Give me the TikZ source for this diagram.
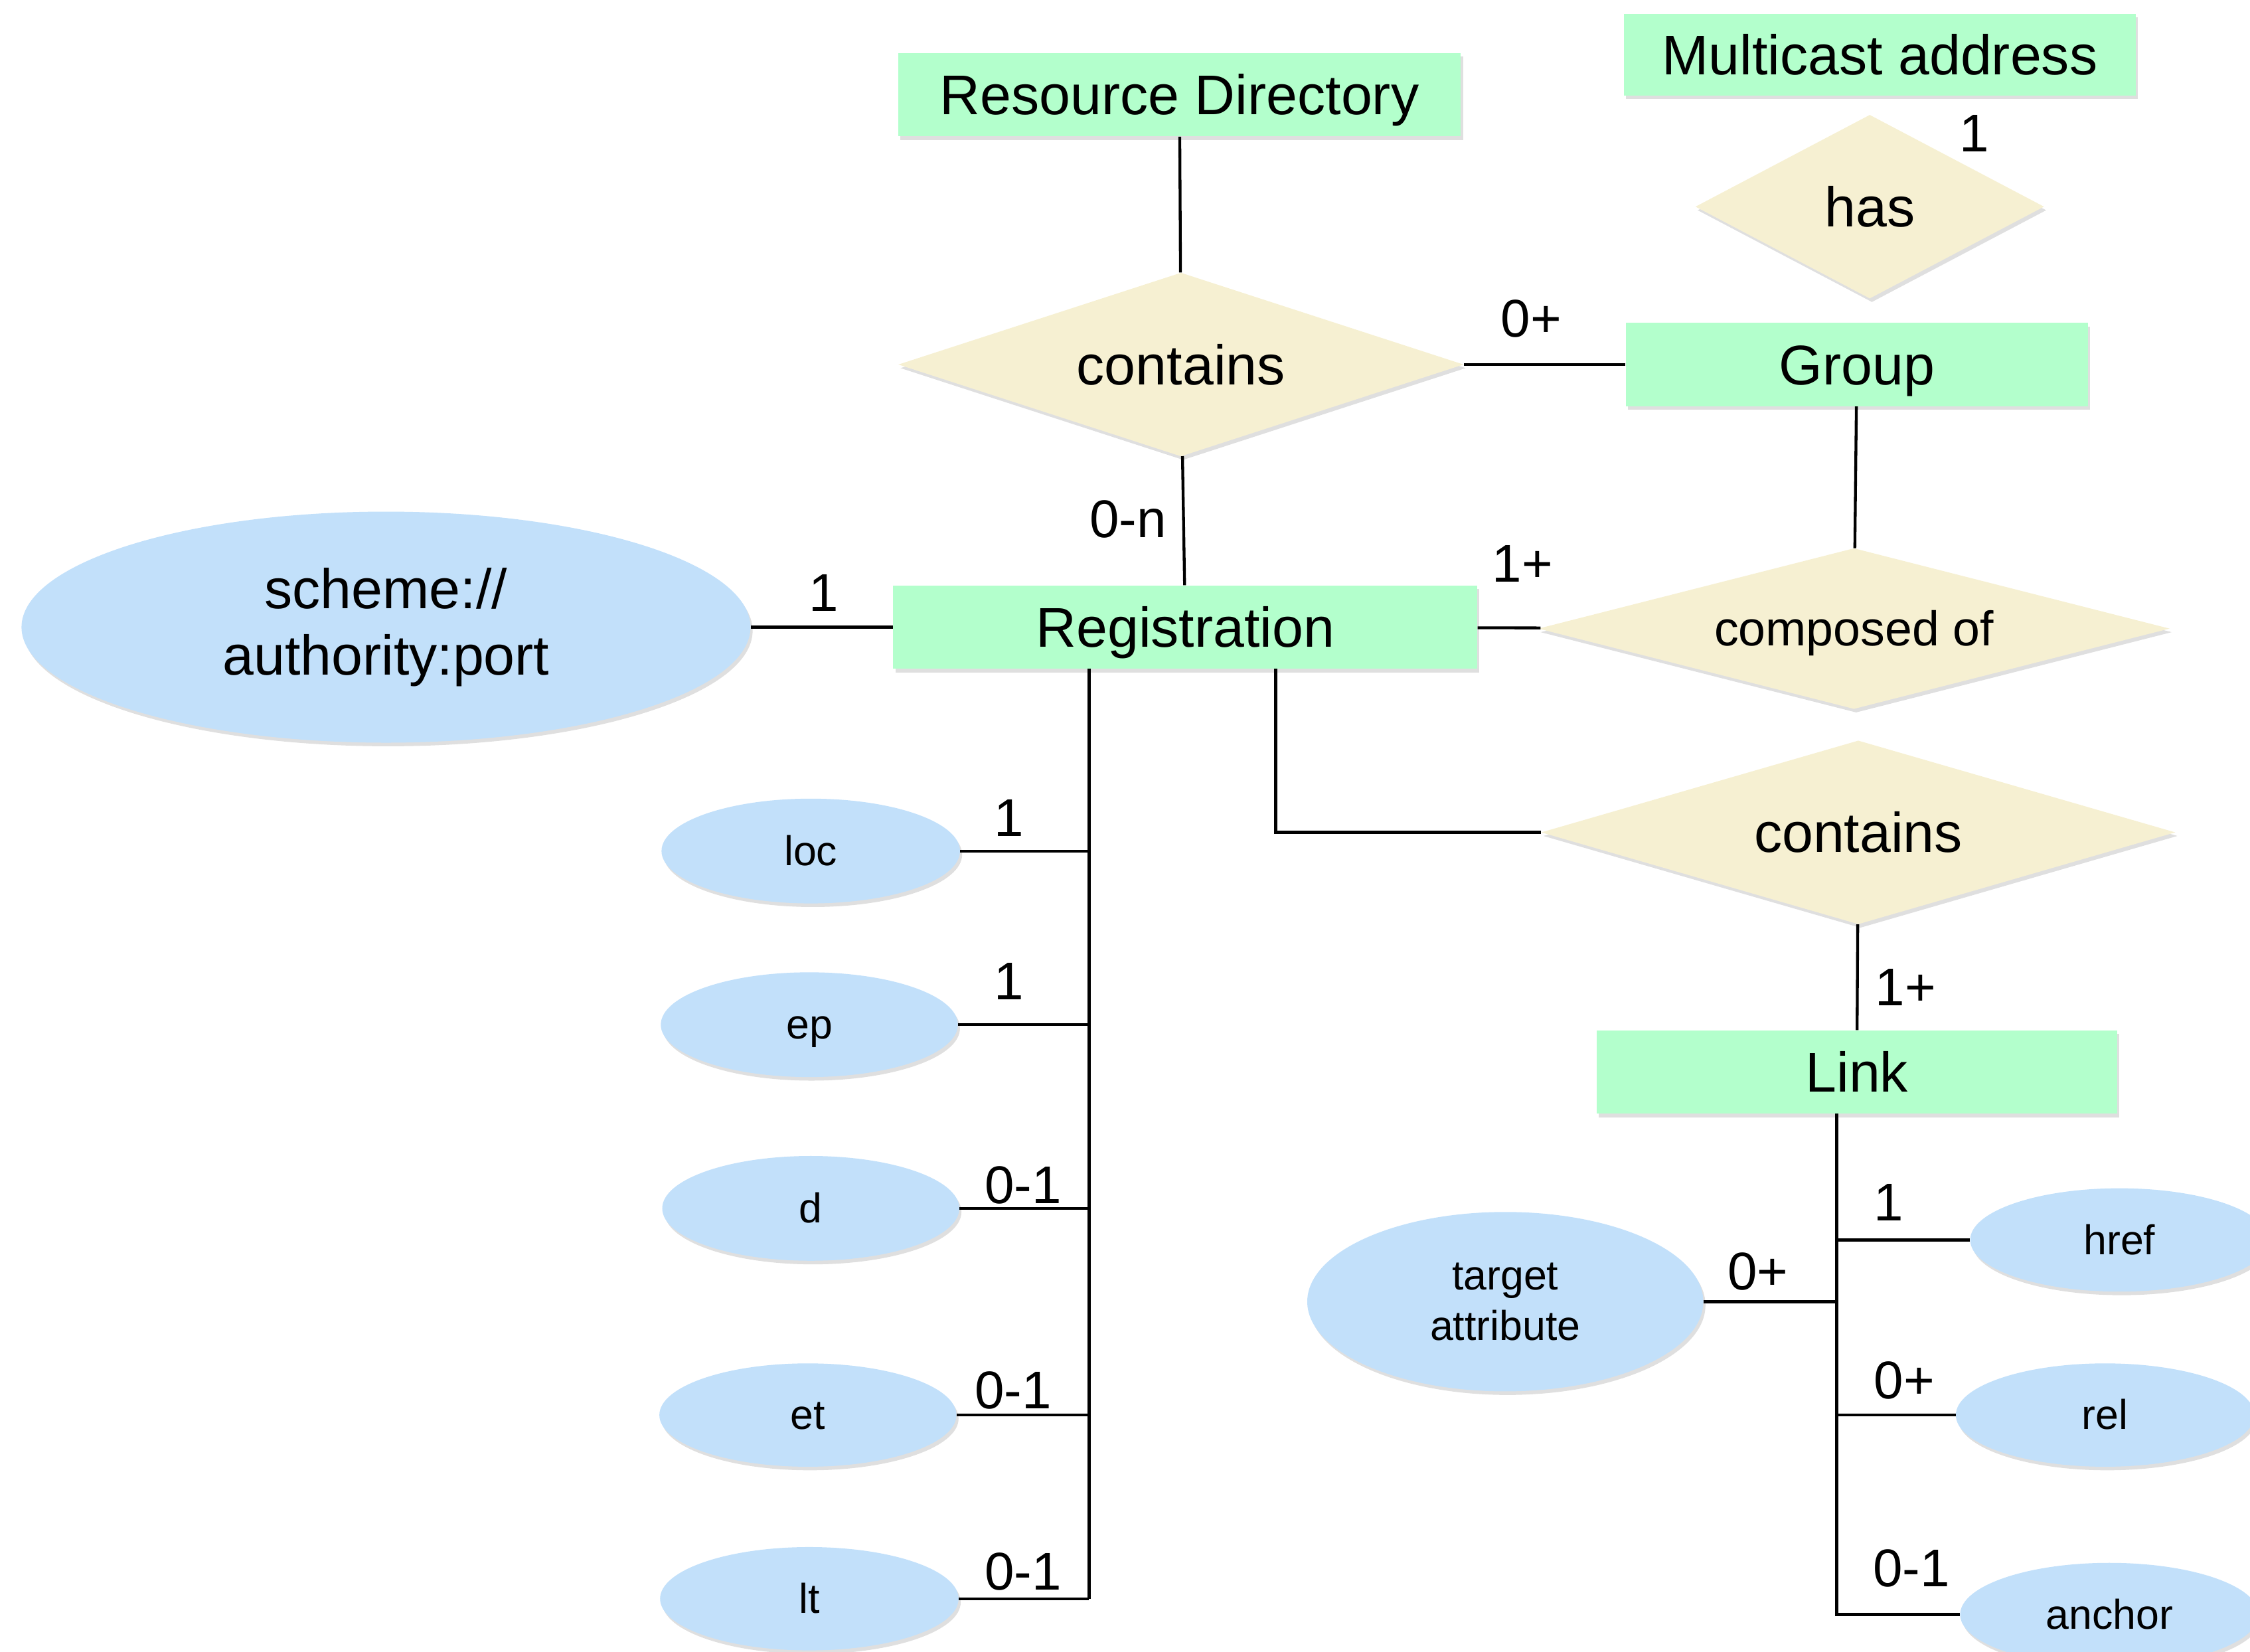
\documentclass[tikz,border=0pt]{standalone}
\usepackage{fontspec}
\setmainfont{Liberation Sans}
\usetikzlibrary{shapes.geometric,shadows}
\definecolor{boxgreen}{RGB}{179,255,204}
\definecolor{relyellow}{RGB}{246,240,210}
\definecolor{attrblue}{RGB}{194,224,250}
\begin{document}
\begin{tikzpicture}[x=1pt,y=-1pt,
  shad/.style={drop shadow={shadow xshift=1.5pt,shadow yshift=-2.5pt,opacity=0.25}},
  ent/.style={rectangle, fill=boxgreen, inner sep=0pt, shad, font=\fontsize{39}{44}\selectfont, text height=28pt, text depth=0pt},
  relbox/.style={diamond, fill=relyellow, inner sep=0pt, shad, font=\fontsize{39}{44}\selectfont, text height=28pt, text depth=0pt},
  attrnode/.style={ellipse, fill=attrblue, inner sep=0pt, shad, font=\fontsize{29}{35}\selectfont, align=center},
  small/.style={attrnode, text height=20pt, text depth=0pt},
  card/.style={font=\fontsize{37}{40}\selectfont, inner sep=0pt},
  conn/.style={line width=2pt, draw=black}]
\useasboundingbox (0,0) rectangle (1568,1151);
\clip (0,0) rectangle (1568,1151);

% entities
\node[ent, minimum width=392pt, minimum height=58pt] (rd) at (822,66) {Resource Directory};
\node[ent, minimum width=357pt, minimum height=57pt] (ma) at (1310,38) {Multicast address};
\node[ent, minimum width=322pt, minimum height=58pt] (grp) at (1294,254) {Group};
\node[ent, minimum width=407pt, minimum height=58pt] (reg) at (826,437) {Registration};
\node[ent, minimum width=363pt, minimum height=58pt] (link) at (1294,747) {Link};

% relationships
\node[relbox, aspect=1.9, minimum width=243pt, minimum height=128pt] (has) at (1303,144) {has};
\node[relbox, aspect=3.08, minimum width=394pt, minimum height=128pt] (c1) at (823,254) {contains};
\node[relbox, aspect=3.93, minimum width=440pt, minimum height=112pt, font=\fontsize{34}{40}\selectfont, text height=24pt] (comp) at (1292,438) {composed of};
\node[relbox, aspect=3.45, minimum width=442pt, minimum height=128pt] (c2) at (1295,580) {contains};

% attributes
\node[attrnode, minimum width=508pt, minimum height=161pt, font=\fontsize{39}{46}\selectfont] (uri) at (269,437) {scheme://\\authority:port};
\node[small, minimum width=208pt, minimum height=73pt] (loc) at (565,593) {loc};
\node[small, minimum width=207pt, minimum height=73pt] (ep) at (564,714) {ep};
\node[small, minimum width=207pt, minimum height=73pt] (d) at (565,842) {d};
\node[small, minimum width=207pt, minimum height=72pt] (et) at (563,986) {et};
\node[small, minimum width=208pt, minimum height=72pt] (lt) at (564,1114) {lt};
\node[attrnode, minimum width=276pt, minimum height=125pt] (tattr) at (1049,907) {target\\attribute};
\node[small, minimum width=208pt, minimum height=72pt] (href) at (1477,864) {href};
\node[small, minimum width=208pt, minimum height=72pt] (rel) at (1467,986) {rel};
\node[small, minimum width=208pt, minimum height=72pt] (anchor) at (1470,1125) {anchor};

% connectors
\draw[conn] (rd) -- (c1);
\draw[conn] (c1) -- (grp);
\draw[conn] (c1) -- (reg);
\draw[conn] (uri) -- (reg);
\draw[conn] (reg) -- (comp);
\draw[conn] (grp) -- (comp);
\draw[conn] (c2) -- (link);

\coordinate (rb2) at (889,466);
\draw[conn] (rb2) |- (c2.west);

\coordinate (bustop) at (759,466);
\coordinate (busbot) at (759,1114);
\draw[conn] (bustop) -- (busbot);
\draw[conn] (loc.east) -- (loc.east -| bustop);
\draw[conn] (ep.east) -- (ep.east -| bustop);
\draw[conn] (d.east) -- (d.east -| bustop);
\draw[conn] (et.east) -- (et.east -| bustop);
\draw[conn] (lt.east) -- (lt.east -| bustop);

\coordinate (lbus) at (1280,776);
\draw[conn] (lbus) |- (anchor.west);
\draw[conn] (href.west) -- (href.west -| lbus);
\draw[conn] (rel.west) -- (rel.west -| lbus);
\draw[conn] (tattr.east) -- (tattr.east -| lbus);

% cardinalities
\node[card] (k1) at (1376,93) {1};
\node[card] (k2) at (1067,222) {0+};
\node[card] (k3) at (786,362) {0-n};
\node[card] (k4) at (574,413) {1};
\node[card] (k5) at (1061,393) {1+};
\node[card] (k6) at (1328,688) {1+};
\node[card] (k7) at (703,570) {1};
\node[card] (k8) at (703,684) {1};
\node[card] (k9) at (713,826) {0-1};
\node[card] (k10) at (706,969) {0-1};
\node[card] (k11) at (713,1095) {0-1};
\node[card] (k12) at (1316,838) {1};
\node[card] (k13) at (1327,962) {0+};
\node[card] (k14) at (1332,1093) {0-1};
\node[card] (k15) at (1225,886) {0+};
\end{tikzpicture}
\end{document}
